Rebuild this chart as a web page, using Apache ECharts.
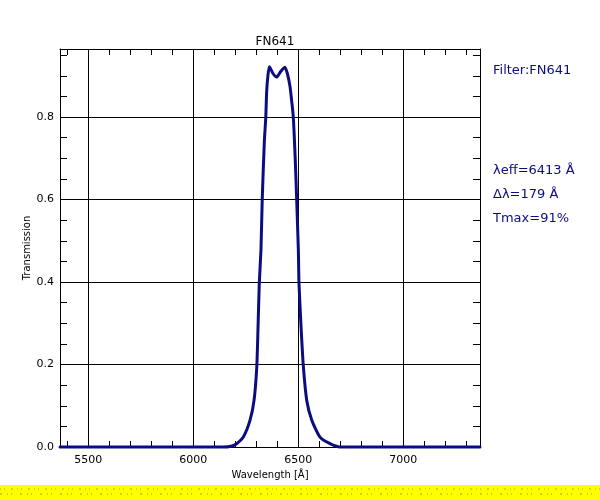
<!DOCTYPE html>
<html>
<head>
<meta charset="utf-8">
<script src="https://cdn.jsdelivr.net/npm/echarts@6/dist/echarts.min.js"></script>
<style>
  html, body { margin: 0; padding: 0; background: #fff; }
  #chart { width: 600px; height: 500px; }
</style>
</head>
<body>
<div id="chart"></div>
<script>
// filter curve
var wavelength = [5365, 6000, 6141, 6180, 6206, 6238, 6270, 6289, 6302, 6308, 6314, 6322, 6328, 6338, 6345, 6349, 6355, 6362,
  6380, 6397, 6415, 6436, 6448, 6460, 6468, 6476, 6485, 6492, 6500, 6503, 6513, 6524, 6540, 6564, 6603, 6651, 6698, 7000, 7365];
var transmission = [0, 0, 0, 0.002, 0.008, 0.024, 0.065, 0.113, 0.194, 0.29, 0.397, 0.478, 0.6, 0.74, 0.8, 0.86, 0.9, 0.922,
  0.905, 0.897, 0.91, 0.921, 0.905, 0.875, 0.84, 0.8, 0.7, 0.6, 0.478, 0.397, 0.29, 0.194, 0.113, 0.065, 0.024, 0.008, 0, 0, 0];

var xLabels = [5500, 6000, 6500, 7000];
var xMinor = [5400, 5500, 5600, 5700, 5800, 5900, 6000, 6100, 6200, 6300, 6400, 6500, 6600, 6700, 6800, 6900, 7000, 7100, 7200, 7300];
var yLabels = [0, 0.2, 0.4, 0.6, 0.8];
var yMinor = [0.05, 0.1, 0.15, 0.2, 0.25, 0.3, 0.35, 0.4, 0.45, 0.5, 0.55, 0.6, 0.65, 0.7, 0.75, 0.8, 0.85, 0.9, 0.95];

var infoLines = ['Filter:FN641', 'λeff=6413 Å', 'Δλ=179 Å', 'Tmax=91%'];

var ink = '#000';
var navy = '#0c0c80';
var font = 'DejaVu Sans';

var points = wavelength.map(function (w, i) { return [w, transmission[i]]; });

var gridLines = xLabels.map(function (v) { return { xAxis: v }; })
  .concat(yLabels.slice(1).map(function (v) { return { yAxis: v }; }));

function xAxisDef(pos, showLabel) {
  return {
    type: 'value', position: pos, min: 5365, max: 7365,
    axisLine: { show: true, onZero: false, lineStyle: { color: ink, width: 1 } },
    axisTick: { show: true, inside: true, length: 6, customValues: xMinor, lineStyle: { color: ink } },
    axisLabel: {
      show: showLabel, customValues: xLabels, color: ink, fontFamily: font, fontSize: 11, margin: 8,
      formatter: function (v) { return String(v); }
    },
    splitLine: { show: false },
    name: showLabel ? 'Wavelength [Å]' : '',
    nameLocation: 'middle', nameGap: 23, nameMoveOverlap: false,
    nameTextStyle: { color: ink, fontFamily: font, fontSize: 10 }
  };
}

function yAxisDef(pos, showLabel) {
  return {
    type: 'value', position: pos, min: 0, max: 0.965,
    axisLine: { show: true, onZero: false, lineStyle: { color: ink, width: 1 } },
    axisTick: { show: true, inside: true, length: 7, customValues: yMinor, lineStyle: { color: ink } },
    axisLabel: {
      show: showLabel, customValues: yLabels, color: ink, fontFamily: font, fontSize: 11, margin: 6,
      formatter: function (v) { return v.toFixed(1); }
    },
    splitLine: { show: false },
    name: showLabel ? 'Transmission' : '',
    nameLocation: 'middle', nameGap: 28, nameRotate: 90, nameMoveOverlap: false,
    nameTextStyle: { color: ink, fontFamily: font, fontSize: 10 }
  };
}

var chart = echarts.init(document.getElementById('chart'), null, { renderer: 'canvas' });
chart.setOption({
  animation: false,
  backgroundColor: '#fff',
  title: {
    text: 'FN641', left: 270, top: 31, textAlign: 'center',
    textStyle: { color: ink, fontFamily: font, fontSize: 12, fontWeight: 'normal' }
  },
  grid: { left: 60, right: 120, top: 49, bottom: 53 },
  xAxis: [xAxisDef('bottom', true), xAxisDef('top', false)],
  yAxis: [yAxisDef('left', true), yAxisDef('right', false)],
  series: [{
    type: 'line',
    data: points,
    smooth: 0.2,
    showSymbol: false,
    clip: false,
    z: 5,
    lineStyle: { color: navy, width: 3, join: 'round', cap: 'round' },
    markLine: {
      silent: true, symbol: 'none', label: { show: false }, animation: false,
      lineStyle: { color: ink, width: 1, type: 'solid' },
      data: gridLines
    }
  }],
  graphic: [
    { type: 'text', left: 493, top: 64, style: { text: infoLines[0], fill: navy, font: '13px "DejaVu Sans"' } },
    { type: 'text', left: 493, top: 164, style: { text: infoLines[1], fill: navy, font: '13px "DejaVu Sans"' } },
    { type: 'text', left: 493, top: 188, style: { text: infoLines[2], fill: navy, font: '13px "DejaVu Sans"' } },
    { type: 'text', left: 493, top: 212, style: { text: infoLines[3], fill: navy, font: '13px "DejaVu Sans"' } },
    { type: 'rect', shape: { x: 0, y: 485, width: 600, height: 15 }, style: { fill: '#ffff00' } },
    { type: 'line', shape: { x1: 0, y1: 489, x2: 600, y2: 489 }, style: { stroke: '#c8a000', lineWidth: 1, lineDash: [1, 3, 1, 6, 2, 4] } },
    { type: 'line', shape: { x1: 0, y1: 494, x2: 600, y2: 494 }, style: { stroke: '#c08a00', lineWidth: 1, lineDash: [2, 5, 1, 3, 1, 8] } }
  ]
});
</script>
</body>
</html>
